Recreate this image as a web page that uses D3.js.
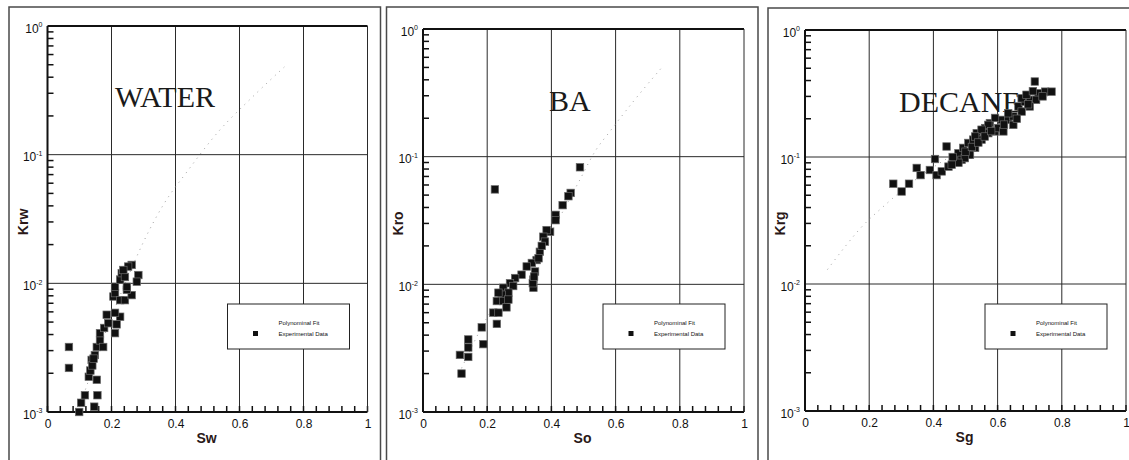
<!DOCTYPE html>
<html>
  <head>
    <meta charset="utf-8" />
    <script src="https://d3js.org/d3.v7.min.js"></script>
    <style>
      body { margin: 0; background: #ffffff; }
      .frame { stroke: #4a4a4a; stroke-width: 1.5; fill: none; }
      .grid { stroke: #2a2a2a; stroke-width: 1; }
      .axisline { stroke: #111111; stroke-width: 2; }
      .minor { stroke: #111111; stroke-width: 1.5; }
      .tick text { font-family: "Liberation Sans", Arial, sans-serif; font-size: 12px; fill: #111; }
      .title { font-family: "Liberation Serif", "Times New Roman", serif; font-size: 30px; fill: #1a1a1a; }
      .axtitle { font-family: "Liberation Sans", Arial, sans-serif; font-size: 14px; font-weight: bold; fill: #2a1818; }
      .pt { fill: #111111; stroke: #6a6a6a; stroke-width: 0.7; }
      .fit { fill: none; stroke: #a0a0a0; stroke-width: 1; stroke-dasharray: 1,5; }
      .legend rect { fill: #ffffff; stroke: #222; stroke-width: 1; }
      .legend text { font-family: "Liberation Sans", Arial, sans-serif; font-size: 6px; fill: #111; }
    </style>
  </head>
  <body>
    <div id="chart"></div>
    <script type="text/javascript">

      var w = 1129, h = 460;

      // tick values
      var xMajor = [0, 0.2, 0.4, 0.6, 0.8, 1];
      var xMinor = d3.range(0, 1.001, 0.04);
      var yMajor = [1e-3, 1e-2, 1e-1, 1];
      var yExp = ["-3", "-2", "-1", "0"];

      // WATER panel
      var waterSw = [0.067, 0.067, 0.099, 0.105, 0.117, 0.146, 0.156, 0.129, 0.134, 0.154, 0.138, 0.148, 0.154, 0.164, 0.174,
        0.164, 0.177, 0.19, 0.185, 0.211, 0.216, 0.227, 0.211, 0.206, 0.211, 0.227, 0.242, 0.263, 0.248, 0.211,
        0.227, 0.232, 0.242, 0.248, 0.263, 0.252, 0.237, 0.284, 0.279, 0.14, 0.144];
      var waterKrw = [0.0032, 0.0022, 0.001, 0.00118, 0.00135, 0.0011, 0.00135, 0.00188, 0.0021, 0.00178, 0.00254, 0.00277, 0.0032, 0.0036, 0.0032,
        0.0041, 0.0045, 0.0049, 0.0057, 0.0041, 0.0048, 0.0055, 0.0059, 0.0079, 0.0084, 0.0074, 0.0074, 0.0081, 0.0089, 0.0094,
        0.0107, 0.012, 0.0112, 0.0094, 0.0139, 0.0135, 0.0127, 0.0116, 0.0103, 0.0023, 0.0026];
      var waterFitS = [0.10, 0.15, 0.20, 0.25, 0.30, 0.36, 0.44, 0.53, 0.64, 0.74];
      var waterFitK = [0.0011, 0.0025, 0.0055, 0.011, 0.021, 0.04, 0.076, 0.147, 0.28, 0.48];

      // BA panel
      var baSo = [0.489, 0.224, 0.46, 0.453, 0.435, 0.413, 0.413, 0.396, 0.385, 0.375, 0.38, 0.364, 0.354, 0.339, 0.323,
        0.349, 0.344, 0.344, 0.307, 0.287, 0.271, 0.281, 0.25, 0.266, 0.245, 0.235, 0.23, 0.25, 0.266, 0.26,
        0.219, 0.235, 0.23, 0.183, 0.188, 0.141, 0.141, 0.141, 0.115, 0.12, 0.342, 0.346, 0.36, 0.37];
      var baKro = [0.0826, 0.0554, 0.052, 0.049, 0.0417, 0.035, 0.0318, 0.0258, 0.0266, 0.0236, 0.0216, 0.018, 0.0155, 0.0147, 0.0138,
        0.0126, 0.0094, 0.0109, 0.0119, 0.0112, 0.0102, 0.0097, 0.0094, 0.0086, 0.0083, 0.0086, 0.0074, 0.0074, 0.0076, 0.0066,
        0.006, 0.006, 0.0049, 0.0046, 0.0034, 0.0037, 0.0032, 0.0027, 0.0028, 0.002, 0.0102, 0.0115, 0.016, 0.02];
      var baFitS = [0.12, 0.2, 0.3, 0.4, 0.48, 0.54, 0.58, 0.66, 0.75];
      var baFitK = [0.0022, 0.0055, 0.012, 0.026, 0.06, 0.114, 0.155, 0.28, 0.52];

      // DECANE panel
      var decaneSg = [0.275, 0.301, 0.324, 0.348, 0.36, 0.389, 0.41, 0.405, 0.426, 0.447, 0.441, 0.467, 0.478, 0.488, 0.493,
        0.509, 0.509, 0.524, 0.53, 0.535, 0.55, 0.561, 0.571, 0.576, 0.592, 0.602, 0.613, 0.618, 0.633, 0.649,
        0.649, 0.665, 0.675, 0.685, 0.675, 0.701, 0.69, 0.716, 0.727, 0.748, 0.768, 0.72, 0.633, 0.592, 0.571,
        0.55, 0.53, 0.514, 0.498, 0.478, 0.457, 0.46, 0.5, 0.52, 0.54, 0.56, 0.58, 0.62, 0.66, 0.7, 0.74, 0.71, 0.695];
      var decaneKrg = [0.0616, 0.0535, 0.0616, 0.082, 0.072, 0.079, 0.072, 0.0964, 0.077, 0.084, 0.121, 0.095, 0.107, 0.095, 0.118,
        0.104, 0.129, 0.137, 0.118, 0.154, 0.137, 0.169, 0.154, 0.185, 0.159, 0.169, 0.196, 0.159, 0.196, 0.179,
        0.209, 0.25, 0.228, 0.273, 0.29, 0.282, 0.309, 0.393, 0.318, 0.327, 0.327, 0.282, 0.221, 0.203, 0.179,
        0.164, 0.145, 0.104, 0.098, 0.09, 0.087, 0.1, 0.11, 0.12, 0.13, 0.145, 0.16, 0.18, 0.2, 0.25, 0.3, 0.33, 0.26];
      var decaneFitS = [0.07, 0.12, 0.17, 0.25, 0.35, 0.45, 0.55, 0.65, 0.77];
      var decaneFitK = [0.013, 0.019, 0.027, 0.042, 0.068, 0.1, 0.14, 0.2, 0.32];

      var panels = [
        { name: "WATER", xt: "Sw", yt: "Krw", xs: waterSw, ys: waterKrw, fx: waterFitS, fy: waterFitK,
          box: [9, 7, 380.5], plot: [47.5, 367.5, 26, 412], tpos: [115, 107] },
        { name: "BA", xt: "So", yt: "Kro", xs: baSo, ys: baKro, fx: baFitS, fy: baFitK,
          box: [386.5, 7, 758], plot: [423, 744, 29, 412], tpos: [549, 111] },
        { name: "DECANE", xt: "Sg", yt: "Krg", xs: decaneSg, ys: decaneKrg, fx: decaneFitS, fy: decaneFitK,
          box: [768, 8, 1140], plot: [805, 1126, 30, 411], tpos: [899, 112] }
      ];

      var yMinor = [];
      [1e-3, 1e-2, 1e-1].forEach(function(d) { for (var k = 2; k < 10; k++) yMinor.push(d * k); });

      var svg = d3.select("#chart").append("svg")
        .attr("width", w).attr("height", h);

      panels.forEach(function(p) {
        var L = p.plot[0], R = p.plot[1], T = p.plot[2], B = p.plot[3];
        var x = d3.scaleLinear().domain([0, 1]).range([L, R]);
        var y = d3.scaleLog().domain([1e-3, 1]).range([B, T]);

        // outer frame (open at the bottom)
        svg.append("path").attr("class", "frame")
          .attr("d", "M" + p.box[0] + "," + (h + 5) + "V" + p.box[1] + "H" + p.box[2] + "V" + (h + 5));

        var g = svg.append("g");

        // grid
        g.selectAll("line.gx").data(xMajor.slice(1, -1)).enter().append("line")
          .attr("class", "grid").attr("x1", x).attr("x2", x).attr("y1", T).attr("y2", B);
        g.selectAll("line.gy").data(yMajor.slice(1, -1)).enter().append("line")
          .attr("class", "grid").attr("x1", L).attr("x2", R).attr("y1", y).attr("y2", y);

        // minor ticks, pointing inward
        g.selectAll("line.mx").data(xMinor).enter().append("line")
          .attr("class", "minor").attr("x1", x).attr("x2", x).attr("y1", B).attr("y2", B - 6);
        g.selectAll("line.my").data(yMinor).enter().append("line")
          .attr("class", "minor").attr("x1", L).attr("x2", L + 6).attr("y1", y).attr("y2", y);

        // tick labels
        var xa = g.append("g").attr("transform", "translate(0," + B + ")")
          .call(d3.axisBottom(x).tickValues(xMajor).tickSize(0).tickPadding(7).tickFormat(d3.format("")));
        xa.select(".domain").remove();
        var ya = g.append("g").attr("transform", "translate(" + L + ",0)")
          .call(d3.axisLeft(y).tickValues(yMajor).tickSize(0).tickPadding(8).tickFormat(""));
        ya.select(".domain").remove();
        ya.selectAll(".tick text").each(function(d, i) {
          var t = d3.select(this).attr("dy", "0.5em").attr("x", -5);
          t.append("tspan").text("10");
          t.append("tspan").attr("dy", "-0.75em").attr("font-size", "7px").text(yExp[i]);
        });

        // frame of the plot
        g.append("line").attr("class", "axisline").attr("x1", L).attr("x2", R).attr("y1", T).attr("y2", T);
        g.append("line").attr("class", "axisline").attr("x1", L).attr("x2", R).attr("y1", B).attr("y2", B);
        g.append("line").attr("class", "axisline").attr("x1", L).attr("x2", L).attr("y1", T).attr("y2", B);
        g.append("line").attr("class", "grid").attr("x1", R).attr("x2", R).attr("y1", T).attr("y2", B);

        // axis titles
        g.append("text").attr("class", "axtitle").attr("text-anchor", "middle")
          .attr("x", (L + R) / 2 - 1).attr("y", B + 31).text(p.xt);
        g.append("text").attr("class", "axtitle").attr("text-anchor", "middle")
          .attr("transform", "translate(" + (L - 20) + "," + y(0.03) + ") rotate(-90)").text(p.yt);

        // fit line
        var fit = p.fx.map(function(s, i) { return [s, p.fy[i]]; });
        g.append("path").attr("class", "fit")
          .attr("d", d3.line().curve(d3.curveMonotoneX).x(function(d) { return x(d[0]); }).y(function(d) { return y(d[1]); })(fit));

        // title
        g.append("text").attr("class", "title").attr("x", p.tpos[0]).attr("y", p.tpos[1]).text(p.name);

        // data
        g.selectAll("rect.pt").data(p.xs).enter().append("rect")
          .attr("class", "pt")
          .attr("x", function(d) { return x(d) - 3.75; })
          .attr("y", function(d, i) { return y(p.ys[i]) - 3.75; })
          .attr("width", 7.5).attr("height", 7.5);

        // legend
        var lg = g.append("g").attr("class", "legend").attr("transform", "translate(" + (L + 180) + ",304)");
        lg.append("rect").attr("width", 122).attr("height", 45);
        lg.append("text").attr("x", 51).attr("y", 21).text("Polynominal Fit");
        lg.append("text").attr("x", 51).attr("y", 32).text("Experimental Data");
        lg.append("rect").attr("x", 25.5).attr("y", 27).attr("width", 5).attr("height", 5)
          .style("fill", "#111").style("stroke", "none");
      });

    </script>
  </body>
</html>
